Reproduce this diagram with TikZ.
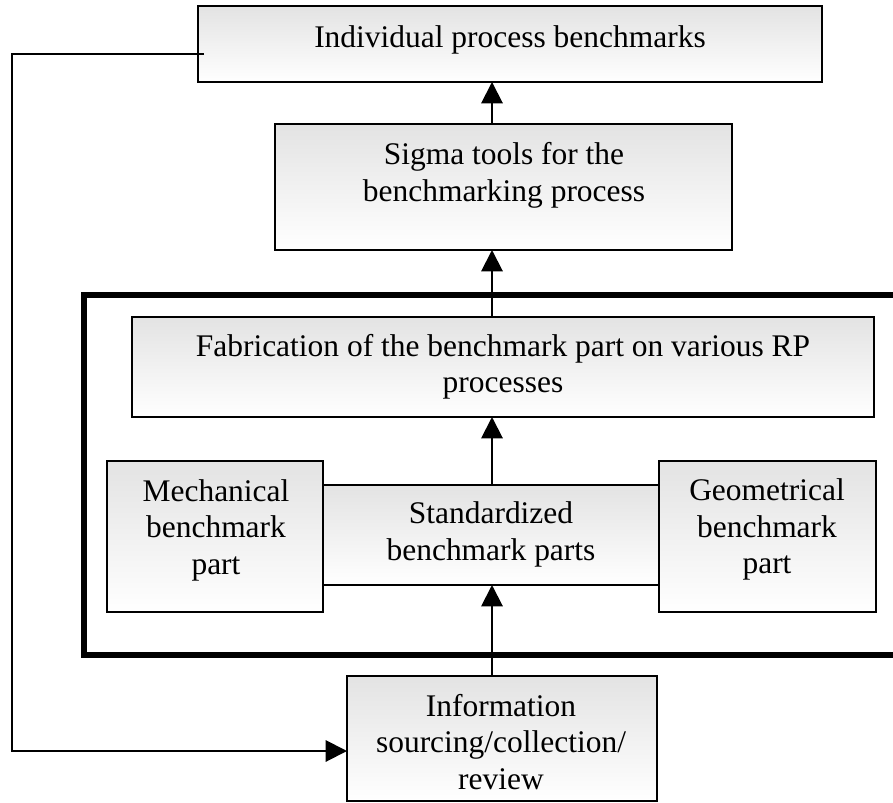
\documentclass[tikz,border=0pt]{standalone}
\usepackage{fontspec}
\setmainfont{Liberation Serif}
\usetikzlibrary{fit,arrows.meta}
\begin{document}
\begin{tikzpicture}[x=0.75pt,y=-0.75pt,
  box/.style={draw=black,line width=1.7pt,top color=black!11,bottom color=white,inner sep=0pt,outer sep=0pt},
  txt/.style={inner sep=0pt,align=center,anchor=north,font=\fontsize{23.6}{27.4}\selectfont},
  conn/.style={line width=1.5pt,-{Triangle[width=16pt,length=16pt]}},
  frame/.style={line width=4.2pt}]
\useasboundingbox (0,0) rectangle (893,803);
% thick frame
\draw[frame] (893,295) -- (84,295) -- (84,655) -- (893,655);
% boxes
\node[box,fit={(198,6) (822,82)}] (top) {};
\node[box,fit={(275,124) (732,250)}] (sigma) {};
\node[box,fit={(132,317) (874,417)}] (fab) {};
\node[box,fit={(323,485) (659,585)}] (std) {};
\node[box,fit={(107,461) (323,612)}] (mech) {};
\node[box,fit={(659,461) (876,612)}] (geo) {};
\node[box,fit={(347,676) (657,801)}] (info) {};
% texts
\node[txt] (toptxt) at (510,25.5) {Individual process benchmarks};
\node[txt] (sigmatxt) at (504,142.5) {Sigma tools for the\\benchmarking process};
\node[txt] (fabtxt) at (503,334) {Fabrication of the benchmark part on various RP\\processes};
\node[txt] (stdtxt) at (491,501.5) {Standardized\\benchmark parts};
\node[txt] (mechtxt) at (216,479) {Mechanical\\benchmark\\part};
\node[txt] (geotxt) at (767,478.5) {Geometrical\\benchmark\\part};
\node[txt] (infotxt) at (501,694) {Information\\sourcing/collection/\\review};
% connectors
\coordinate (a0) at (492,82);
\coordinate (a1) at (492,250);
\coordinate (a2) at (492,417);
\coordinate (a3) at (492,585);
\coordinate (fbstart) at (204,54);
\coordinate (fbc1) at (12,54);
\coordinate (fbc2) at (12,751);
\coordinate (fbend) at (347,751);
\draw[conn] (sigma.north -| a0) -- (a0);
\draw[conn] (fab.north -| a1) -- (a1);
\draw[conn] (std.north -| a2) -- (a2);
\draw[conn] (info.north -| a3) -- (a3);
\draw[conn] (fbstart) -- (fbc1) -- (fbc2) -- (fbend);
\end{tikzpicture}
\end{document}
